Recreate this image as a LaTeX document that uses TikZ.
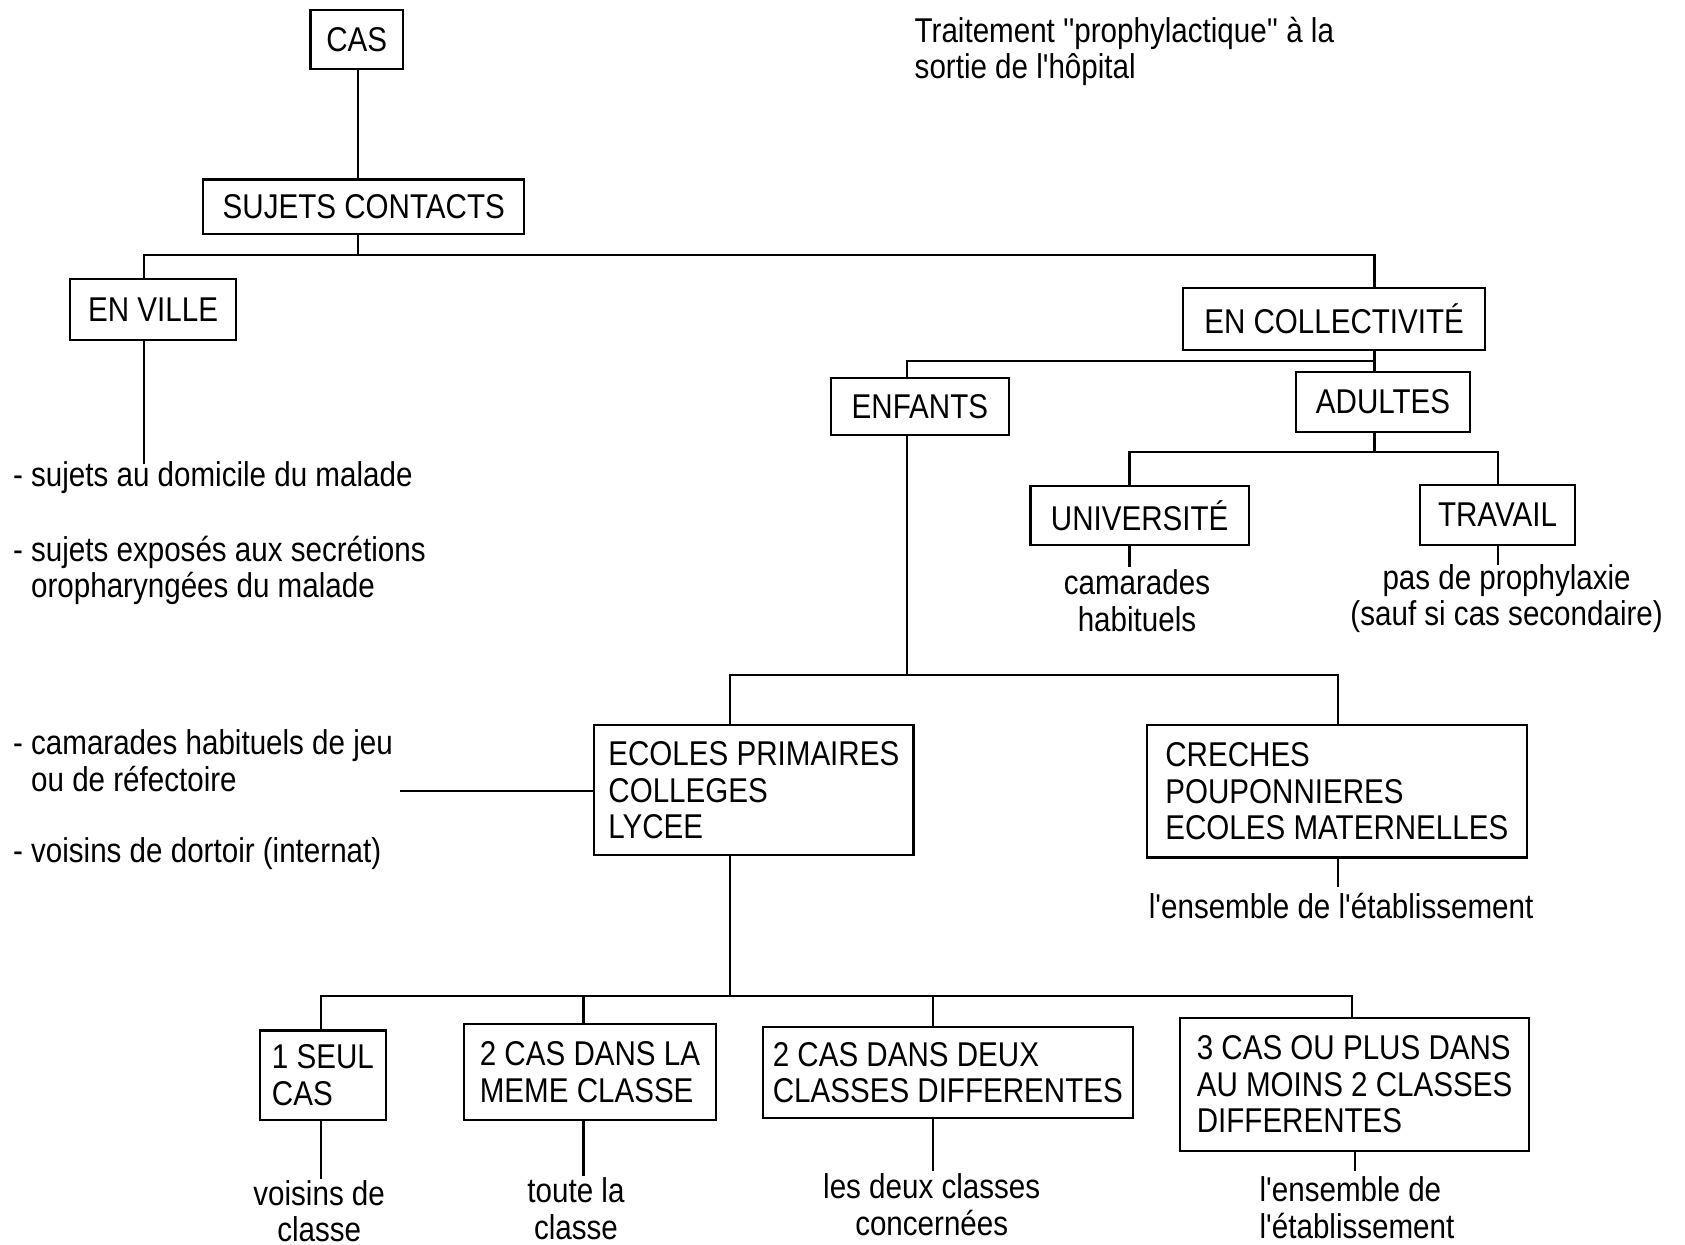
\documentclass[tikz,border=0pt]{standalone}
\usepackage{fontspec}
\setmainfont[FakeStretch=0.86,Ligatures=TeXOff]{Liberation Sans}
\begin{document}
\begin{tikzpicture}[x=1pt,y=-1pt,
  every node/.style={font=\fontsize{32}{34}\selectfont},
  box/.style={draw,line width=2pt,inner sep=0pt,align=center},
  lbox/.style={draw,line width=2pt,inner sep=0pt,align=left},
  txt/.style={inner sep=0pt},
  conn/.style={line width=2pt}]
\useasboundingbox (0,0) rectangle (1568,1158);
% boxes
\node[box,minimum width=86pt,minimum height=55pt] (cas) at (332,36.5) {CAS};
\node[box,minimum width=299pt,minimum height=51pt] (sujets) at (338.5,192.5) {SUJETS CONTACTS};
\node[box,minimum width=155pt,minimum height=56pt] (enville) at (142.5,288) {EN VILLE};
\node[box,minimum width=281pt,minimum height=58pt] (encoll) at (1241.5,297) {EN COLLECTIVITÉ};
\node[box,minimum width=166pt,minimum height=53pt] (enfants) at (856,378.5) {ENFANTS};
\node[box,minimum width=162pt,minimum height=56pt] (adultes) at (1287,374) {ADULTES};
\node[box,minimum width=203pt,minimum height=55pt] (univ) at (1060.5,479.5) {UNIVERSITÉ};
\node[box,minimum width=145pt,minimum height=56pt] (travail) at (1393.5,479) {TRAVAIL};
\node[lbox,minimum width=297pt,minimum height=121pt] (ecoles) at (701.5,735.5) {ECOLES PRIMAIRES\\COLLEGES\\LYCEE};
\node[lbox,minimum width=354pt,minimum height=123pt] (creches) at (1244,736.5) {CRECHES\\POUPONNIERES\\ECOLES MATERNELLES};
\node[lbox,minimum width=117pt,minimum height=83pt] (seul) at (300.5,1000.5) {1 SEUL\\CAS};
\node[lbox,minimum width=234pt,minimum height=89pt] (meme) at (549,997.5) {2 CAS DANS LA\\MEME CLASSE};
\node[lbox,minimum width=344pt,minimum height=84pt] (deux) at (882,998) {2 CAS DANS DEUX\\CLASSES DIFFERENTES};
\node[lbox,minimum width=325pt,minimum height=124pt] (trois) at (1260.5,1009) {3 CAS OU PLUS DANS\\AU MOINS 2 CLASSES\\DIFFERENTES};
% texts
\node[txt,anchor=west,align=left] (titre) at (851,48) {Traitement ''prophylactique'' à la\\sortie de l'hôpital};
\node[txt,anchor=base west] (dom) at (12,453) {- sujets au domicile du malade};
\node[txt,anchor=west,align=left] (expo) at (12,531) {- sujets exposés aux secrétions\\\phantom{- }oropharyngées du malade};
\node[txt,anchor=west,align=left] (jeu) at (12,708) {- camarades habituels de jeu\\\phantom{- }ou de réfectoire};
\node[txt,anchor=base west] (dortoir) at (12,803) {- voisins de dortoir (internat)};
\node[txt,align=center] (univtxt) at (1058,559) {camarades\\habituels};
\node[txt,align=center] (travtxt) at (1402,557) {pas de prophylaxie\\(sauf si cas secondaire)};
\node[txt,anchor=base] (crechtxt) at (1248,855) {l'ensemble de l'établissement};
\node[txt,align=center] (seultxt) at (297,1127) {voisins de\\classe};
\node[txt,align=center] (memetxt) at (536,1125) {toute la\\classe};
\node[txt,align=center] (deuxtxt) at (867,1121) {les deux classes\\concernées};
\node[txt,anchor=west,align=left] (troistxt) at (1172,1124) {l'ensemble de\\l'établissement};
% junctions
\coordinate (j0) at (333,237);
\coordinate (jv) at (134,237);
\coordinate (jc) at (1279,237);
\coordinate (ev) at (134,432);
\coordinate (k0) at (1279,336);
\coordinate (kE) at (844,336);
\coordinate (a0) at (1279,421);
\coordinate (aU) at (1051,421);
\coordinate (aT) at (1394,421);
\coordinate (uE) at (1051,528);
\coordinate (tE) at (1394,526);
\coordinate (m0) at (844,628);
\coordinate (mE) at (679,628);
\coordinate (mC) at (1245,628);
\coordinate (cE) at (1245,825);
\coordinate (lE) at (372,736);
\coordinate (n0) at (679,927);
\coordinate (n1) at (299,927);
\coordinate (n2) at (543,927);
\coordinate (n3) at (868,927);
\coordinate (n4) at (1258,927);
\coordinate (s1) at (299,1097);
\coordinate (s2) at (543,1094);
\coordinate (s3) at (868,1090);
\coordinate (s4) at (1261,1090);
% connectors
\draw[conn] (cas.south -| j0) -- (sujets.north -| j0);
\draw[conn] (sujets.south -| j0) -- (j0);
\draw[conn] (enville.north -| jv) -- (jv) -- (jc) -- (encoll.north -| jc);
\draw[conn] (enville.south -| ev) -- (ev);
\draw[conn] (encoll.south -| k0) -- (adultes.north -| k0);
\draw[conn] (k0) -- (kE) -- (enfants.north -| kE);
\draw[conn] (adultes.south -| a0) -- (a0);
\draw[conn] (univ.north -| aU) -- (aU) -- (aT) -- (travail.north -| aT);
\draw[conn] (univ.south -| uE) -- (uE);
\draw[conn] (travail.south -| tE) -- (tE);
\draw[conn] (enfants.south -| m0) -- (m0);
\draw[conn] (ecoles.north -| mE) -- (mE) -- (mC) -- (creches.north -| mC);
\draw[conn] (creches.south -| cE) -- (cE);
\draw[conn] (lE) -- (ecoles.west |- lE);
\draw[conn] (ecoles.south -| n0) -- (n0);
\draw[conn] (seul.north -| n1) -- (n1) -- (n4) -- (trois.north -| n4);
\draw[conn] (meme.north -| n2) -- (n2);
\draw[conn] (deux.north -| n3) -- (n3);
\draw[conn] (seul.south -| s1) -- (s1);
\draw[conn] (meme.south -| s2) -- (s2);
\draw[conn] (deux.south -| s3) -- (s3);
\draw[conn] (trois.south -| s4) -- (s4);
\end{tikzpicture}
\end{document}
